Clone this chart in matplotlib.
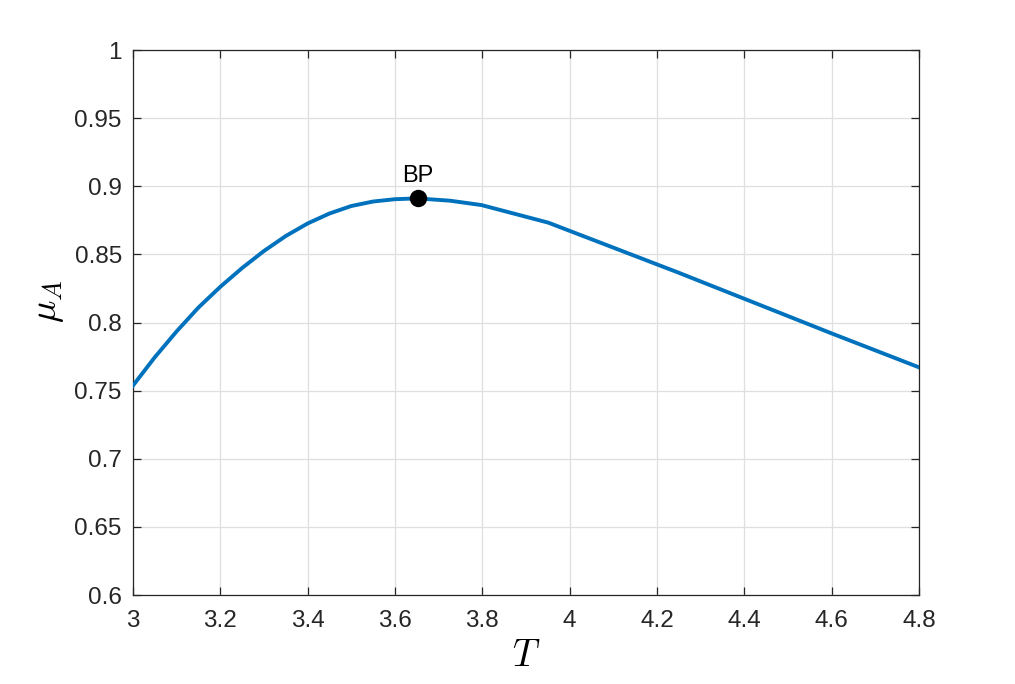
import numpy as np
import matplotlib.pyplot as plt

plt.rcParams['font.family'] = ['Liberation Sans', 'DejaVu Sans']
plt.rcParams['mathtext.fontset'] = 'cm'

# continuation curve
T = [3.0, 3.05, 3.1, 3.15, 3.2, 3.25, 3.3, 3.35, 3.4, 3.45, 3.5, 3.55,
     3.6, 3.651, 3.726, 3.798, 3.951, 4.25, 4.6, 4.8]
mu_A = [0.7537, 0.7745, 0.7935, 0.811, 0.8262, 0.840, 0.8525, 0.8635,
        0.8727, 0.880, 0.8855, 0.8888, 0.8905, 0.8911, 0.8894, 0.8862,
        0.8733, 0.8365, 0.792, 0.7671]
bp_T, bp_mu = 3.652, 0.8911

fig = plt.figure(figsize=(10.15, 6.84), dpi=100)
ax = fig.add_axes([0.131, 0.1301, 0.7744, 0.7968])

ax.plot(T, mu_A, color='#0072BD', lw=2.8, zorder=3)
ax.plot(bp_T, bp_mu, 'o', color='k', ms=11.5, zorder=4)
ax.annotate('BP', (bp_T, bp_mu), xytext=(0, 12), textcoords='offset points',
            ha='center', va='baseline', fontsize=17)

ax.set_xlim(3, 4.8)
ax.set_ylim(0.6, 1)
ax.set_xticks(np.arange(3, 4.81, 0.2))
ax.set_yticks(np.arange(0.6, 1.001, 0.05))
ax.set_xticklabels(['3', '3.2', '3.4', '3.6', '3.8', '4', '4.2', '4.4', '4.6', '4.8'])
ax.set_yticklabels(['0.6', '0.65', '0.7', '0.75', '0.8', '0.85', '0.9', '0.95', '1'])
ax.grid(True, color='#dfdfdf', lw=0.9)
ax.set_axisbelow(True)
ax.tick_params(direction='in', length=6, width=0.9, top=True, right=True,
               labelsize=17.5, colors='#262626')
ax.tick_params(axis='y', pad=8)
ax.tick_params(axis='x', pad=11)
for s in ax.spines.values():
    s.set_color('#262626')
    s.set_linewidth(0.9)

ax.set_xlabel('$T$', fontsize=27, va='center', ha='center')
ax.xaxis.set_label_coords(0.5, -0.112)
ax.set_ylabel(r'$\mu_A$', fontsize=27, va='center', ha='center')
ax.yaxis.set_label_coords(-0.108, 0.539)

fig.savefig('out.png', dpi=100)
